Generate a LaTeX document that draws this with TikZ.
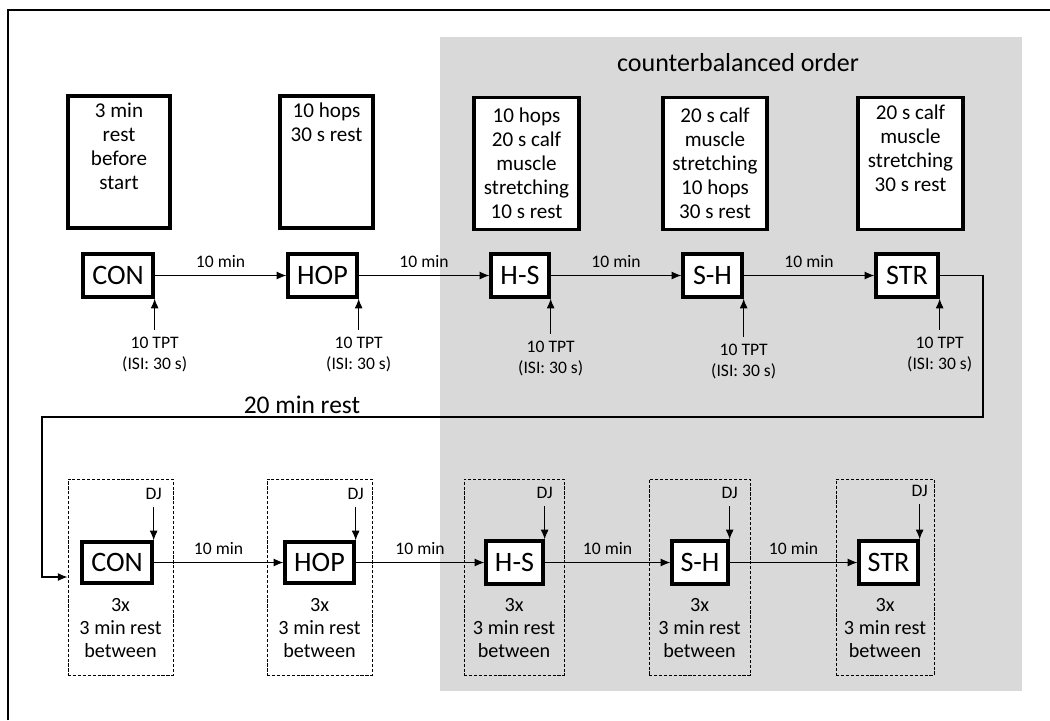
\documentclass[tikz,border=0pt]{standalone}
\usepackage{fontspec}
\setmainfont{Carlito}
\usetikzlibrary{positioning,arrows.meta}
\definecolor{bandgray}{RGB}{217,217,217}

\begin{document}
\begin{tikzpicture}[x=0.02cm,y=-0.02cm,
	stage/.style={draw,line width=1.9pt,fill=white,inner sep=0pt,minimum height=0.86cm,font=\fontsize{16}{18}\selectfont},
	plan/.style={draw,line width=1.9pt,fill=white,inner sep=0pt,minimum height=2.64cm,align=center,font=\fontsize{12}{13.6}\selectfont},
	session/.style={draw,dash pattern=on 1.8pt off 1pt,line width=0.55pt,minimum height=3.92cm,inner sep=0pt},
	small/.style={font=\fontsize{10}{12}\selectfont,align=center,inner sep=1pt},
	tpt/.style={small,inner sep=4pt},
	rep/.style={font=\fontsize{11.5}{13.2}\selectfont,align=center,inner sep=1pt},
	flow/.style={-{Latex[length=5.5pt,width=4.5pt]},line width=0.6pt}]

	\useasboundingbox (0,0) rectangle (1050,720);

	\fill[bandgray] (440,37) rectangle (1022,691);
	\draw[line width=1.1pt] (8,720) -- (8,10) -- (1050,10);

	\node[font=\fontsize{14.8}{17}\selectfont] (order) at (738,63) {counterbalanced order};

	\node[plan,minimum width=2.04cm] (plancon) at (119,162) {3 min\\rest\\before\\start\\\strut};
	\node[plan,minimum width=1.86cm] (planhop) at (326.5,162) {10 hops\\30 s rest\\\strut\\\strut\\\strut};
	\node[plan,minimum width=2.1cm] (planhs) at (526.5,163.5) {10 hops\\20 s calf\\muscle\\stretching\\10 s rest};
	\node[plan,minimum width=2.08cm] (plansh) at (715,163.5) {20 s calf\\muscle\\stretching\\10 hops\\30 s rest};
	\node[plan,minimum width=2.1cm] (planstr) at (910.5,163.5) {20 s calf\\muscle\\stretching\\30 s rest\\\strut};

	\node[stage,minimum width=1.4cm] (con) at (118,275.5) {CON};
	\node[stage,minimum width=1.38cm] (hop) at (322.5,275.5) {HOP};
	\node[stage,minimum width=1.16cm] (hs) at (520,275.5) {H-S};
	\node[stage,minimum width=1.18cm] (sh) at (712.5,275.5) {S-H};
	\node[stage,minimum width=1.24cm] (str) at (907,275.5) {STR};

	\draw[flow] (con) -- node[small,above=3pt] (gapa) {10 min} (hop);
	\draw[flow] (hop) -- node[small,above=3pt] (gapb) {10 min} (hs);
	\draw[flow] (hs) -- node[small,above=3pt] (gapc) {10 min} (sh);
	\draw[flow] (sh) -- node[small,above=3pt] (gapd) {10 min} (str);

	\node[tpt,below=0.62cm of con.south east] (tptcon) {10 TPT\\(ISI: 30 s)};
	\node[tpt,below=0.62cm of hop.south east] (tpthop) {10 TPT\\(ISI: 30 s)};
	\node[tpt,below=0.7cm of hs.south east] (tpths) {10 TPT\\(ISI: 30 s)};
	\node[tpt,below=0.76cm of sh.south east] (tptsh) {10 TPT\\(ISI: 30 s)};
	\node[tpt,below=0.62cm of str.south east] (tptstr) {10 TPT\\(ISI: 30 s)};

	\draw[flow] (tptcon.north) -- (con.south east);
	\draw[flow] (tpthop.north) -- (hop.south east);
	\draw[flow] (tpths.north) -- (hs.south east);
	\draw[flow] (tptsh.north) -- (sh.south east);
	\draw[flow] (tptstr.north) -- (str.south east);

	\node[session,minimum width=2.1cm] (setcon) at (120.5,577) {};
	\node[session,minimum width=2.1cm] (sethop) at (319.5,577) {};
	\node[session,minimum width=2cm] (seths) at (514,577) {};
	\node[session,minimum width=2.02cm] (setsh) at (699.5,577) {};
	\node[session,minimum width=1.96cm] (setstr) at (885,577) {};

	\coordinate (loopr) at (983,417);
	\coordinate (loopl) at (42,417);
	\draw[flow] (str.east) -| (loopr) -- (loopl) |- (setcon.west);
	\node[font=\fontsize{14.5}{16}\selectfont] (pause) at (302,405) {20 min rest};

	\node[stage,minimum width=1.4cm,minimum height=0.82cm] (con2) at (117,562.5) {CON};
	\node[stage,minimum width=1.38cm,minimum height=0.82cm] (hop2) at (319.5,562.5) {HOP};
	\node[stage,minimum width=1.14cm] (hs2) at (514.5,562.5) {H-S};
	\node[stage,minimum width=1.12cm] (sh2) at (700,562.5) {S-H};
	\node[stage,minimum width=1.18cm] (str2) at (888.5,562.5) {STR};

	\draw[flow] (con2) -- node[small,above=3pt] (gape) {10 min} (hop2);
	\draw[flow] (hop2) -- node[small,above=3pt] (gapf) {10 min} (hs2);
	\draw[flow] (hs2) -- node[small,above=3pt] (gapg) {10 min} (sh2);
	\draw[flow] (sh2) -- node[small,above=3pt] (gaph) {10 min} (str2);

	\node[tpt,above=0.66cm of con2.north east] (djcon) {DJ};
	\node[tpt,above=0.66cm of hop2.north east] (djhop) {DJ};
	\node[tpt,above=0.66cm of hs2.north east] (djhs) {DJ};
	\node[tpt,above=0.66cm of sh2.north east] (djsh) {DJ};
	\node[tpt,above=0.7cm of str2.north east] (djstr) {DJ};

	\draw[flow] (djcon.south) -- (con2.north east);
	\draw[flow] (djhop.south) -- (hop2.north east);
	\draw[flow] (djhs.south) -- (hs2.north east);
	\draw[flow] (djsh.south) -- (sh2.north east);
	\draw[flow] (djstr.south) -- (str2.north east);

	\node[rep] (repcon) at (120.5,628) {3x\\3 min rest\\between};
	\node[rep] (rephop) at (319.5,628) {3x\\3 min rest\\between};
	\node[rep] (rephs) at (514,628) {3x\\3 min rest\\between};
	\node[rep] (repsh) at (699.5,628) {3x\\3 min rest\\between};
	\node[rep] (repstr) at (885,628) {3x\\3 min rest\\between};

\end{tikzpicture}
\end{document}
